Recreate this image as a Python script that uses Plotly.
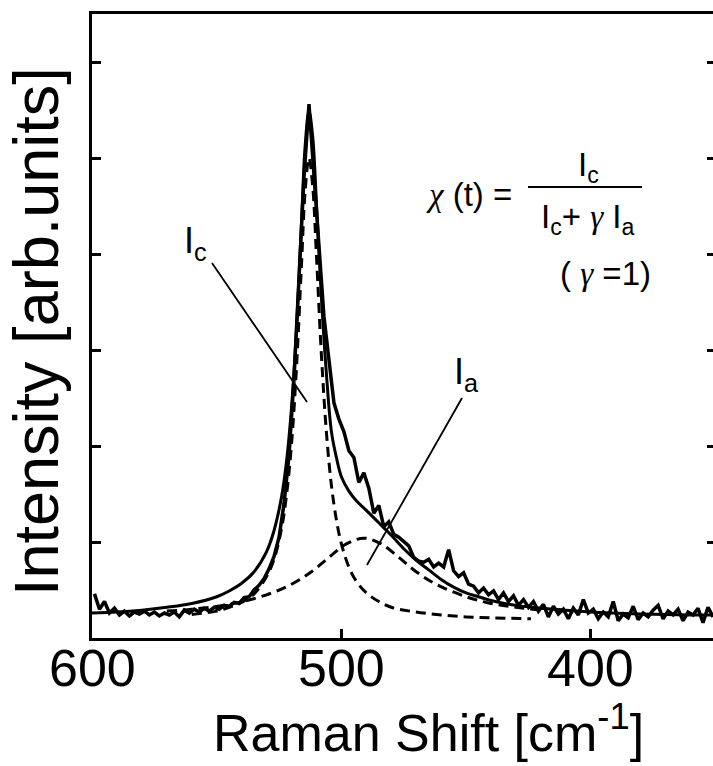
import plotly.graph_objects as go

# ---------------- data ----------------
raman_shift = [599, 597, 595, 593, 591, 589, 587, 585, 583, 581,
               579, 577, 575, 573, 571, 569, 567, 565, 563, 561,
               559, 557, 555, 553, 551, 549, 547, 545, 543, 541,
               539, 537, 535, 533, 531, 529, 527, 525, 523, 521,
               519, 517, 515, 513, 511, 509, 507, 505, 503, 501,
               499, 497, 495, 493, 491, 489, 487, 485, 483, 481,
               479, 477, 475, 473, 471, 469, 467, 465, 463, 461,
               459, 457, 455, 453, 451, 449, 447, 445, 443, 441,
               439, 437, 435, 433, 431, 429, 427, 425, 423, 421,
               419, 417, 415, 413, 411, 409, 407, 405, 403, 401,
               399, 397, 395, 393, 391, 389, 387, 385, 383, 381,
               379, 377, 375, 373, 371, 369, 367, 365, 363, 361,
               359, 357, 355, 353, 351]
intensity_measured = [0.46, 0.30, 0.38, 0.26, 0.31, 0.24, 0.28, 0.23, 0.27, 0.25,
                      0.28, 0.24, 0.27, 0.23, 0.26, 0.24, 0.27, 0.22, 0.29, 0.26,
                      0.30, 0.27, 0.31, 0.28, 0.32, 0.30, 0.34, 0.33, 0.37, 0.36,
                      0.42, 0.43, 0.50, 0.55, 0.62, 0.72, 0.85, 1.05, 1.40, 1.90,
                      2.70, 3.85, 4.80, 5.56, 4.85, 4.05, 3.35, 2.90, 2.45, 2.28,
                      2.15, 1.95, 1.88, 1.62, 1.72, 1.56, 1.30, 1.38, 1.16, 1.21,
                      1.08, 1.05, 1.01, 0.96, 0.84, 0.80, 0.79, 0.82, 0.74, 0.78,
                      0.74, 0.92, 0.70, 0.64, 0.68, 0.56, 0.54, 0.47, 0.52, 0.45,
                      0.49, 0.40, 0.47, 0.38, 0.44, 0.34, 0.40, 0.32, 0.38, 0.28,
                      0.35, 0.22, 0.33, 0.25, 0.30, 0.20, 0.31, 0.24, 0.40, 0.26,
                      0.30, 0.20, 0.27, 0.22, 0.38, 0.18, 0.25, 0.21, 0.33, 0.19,
                      0.26, 0.22, 0.29, 0.34, 0.20, 0.28, 0.24, 0.30, 0.18, 0.27,
                      0.24, 0.31, 0.16, 0.32, 0.22]

fit_shift = [600, 590, 580, 570, 560, 550, 545, 540, 535, 530, 527, 524, 522, 520,
             518, 516, 514.5, 513, 511.5, 510, 508, 506, 504, 502, 500, 497, 494,
             490, 485, 480, 475, 470, 465, 460, 455, 450, 445, 440, 430, 420, 410,
             400, 380, 360, 351]
fit_total = [0.26, 0.27, 0.29, 0.32, 0.36, 0.43, 0.49, 0.57, 0.69, 0.90, 1.12, 1.47, 1.84, 2.40,
             3.23, 4.33, 5.14, 5.49, 5.22, 4.53, 3.54, 2.75, 2.15, 1.88, 1.68, 1.53, 1.43,
             1.33, 1.20, 1.07, 0.93, 0.81, 0.71, 0.61, 0.53, 0.47, 0.43, 0.39, 0.34, 0.31, 0.29,
             0.27, 0.25, 0.24, 0.24]

ic_shift = [560, 550, 545, 540, 535, 530, 527, 524, 522, 520, 518, 516, 514.5, 513,
            511.5, 510, 508, 506, 504, 502, 500, 497, 494, 490, 485, 480, 470, 460,
            450, 440, 424]
ic_crystal = [0.245, 0.28, 0.32, 0.37, 0.46, 0.64, 0.82, 1.14, 1.49, 2.02, 2.82, 3.89, 4.67, 5.00,
              4.70, 3.98, 2.94, 2.14, 1.59, 1.23, 0.98, 0.74, 0.59, 0.47, 0.38, 0.32, 0.27, 0.24,
              0.22, 0.21, 0.20]

ia_shift = [570, 560, 545, 530, 520, 512, 505, 498, 491, 484, 477, 470, 462, 450,
            440, 430, 420]
ia_amorphous = [0.28, 0.30, 0.35, 0.45, 0.56, 0.69, 0.84, 0.98, 1.04, 0.98, 0.84, 0.69, 0.56, 0.43,
                0.36, 0.32, 0.29]

x_tick_values = [600, 500, 400]
x_tick_labels = ["600", "500", "400"]
y_tick_values = [1, 2, 3, 4, 5, 6]
y_range = [0, 6.5]

# ---------------- figure ----------------
W, H = 713, 766
L, R, T, B = 92, 0, 14, 128
pw, ph = W - L - R, H - T - B


def px(xp):
    return (xp - L) / pw


def py(yp):
    return (H - B - yp) / ph


dash_line = dict(color="black", width=3, dash="10px,6px")
fig = go.Figure()
fig.add_trace(go.Scatter(x=ia_shift, y=ia_amorphous, mode="lines", line_shape="spline",
                         line=dash_line, showlegend=False))
fig.add_trace(go.Scatter(x=ic_shift, y=ic_crystal, mode="lines", line_shape="spline",
                         line=dash_line, showlegend=False))
fig.add_trace(go.Scatter(x=fit_shift, y=fit_total, mode="lines", line_shape="spline",
                         line=dict(color="black", width=3), showlegend=False))
fig.add_trace(go.Scatter(x=raman_shift, y=intensity_measured, mode="lines",
                         line=dict(color="black", width=3.5), showlegend=False))
# empty trace so that the right-hand tick axis is drawn
fig.add_trace(go.Scatter(x=[], y=[], yaxis="y2", showlegend=False, hoverinfo="skip"))

font_main = "Liberation Sans, Arial, Helvetica, sans-serif"
serif_i = '<span style="font-family:Liberation Serif, Times New Roman, serif"><i>{}</i></span>'

fig.update_layout(
    xaxis=dict(range=[600, 351], tickvals=x_tick_values, showticklabels=False,
               ticks="inside", ticklen=9, tickwidth=3, tickcolor="black",
               showline=True, linewidth=3, linecolor="black", mirror=True,
               showgrid=False, zeroline=False),
    yaxis=dict(range=y_range, tickvals=y_tick_values, showticklabels=False,
               ticks="inside", ticklen=9, tickwidth=3, tickcolor="black",
               showline=True, linewidth=3, linecolor="black", mirror=False,
               showgrid=False, zeroline=False),
    yaxis2=dict(range=y_range, tickvals=y_tick_values, showticklabels=False,
                overlaying="y", side="right", anchor="free", position=1.0,
                ticks="inside", ticklen=6, tickwidth=3, tickcolor="black",
                showline=False, showgrid=False, zeroline=False),
)

ann = []
for v, t in zip(x_tick_values, x_tick_labels):
    ann.append(dict(text=t, x=v, xref="x", y=py(668), yref="paper", xanchor="center",
                    yanchor="middle", showarrow=False,
                    font=dict(family=font_main, size=52, color="black")))
ann.append(dict(text="Raman Shift [cm<sup>-1</sup>]", x=px(428), y=py(729), xref="paper", yref="paper",
                xanchor="center", yanchor="middle", showarrow=False,
                font=dict(family=font_main, size=52, color="black")))
ann.append(dict(text="Intensity [arb.units]", x=px(36), y=py(332), xref="paper", yref="paper",
                xanchor="center", yanchor="middle", showarrow=False, textangle=-90,
                font=dict(family=font_main, size=63, color="black")))

fsz = 33
ann.append(dict(text=serif_i.format("χ") + " (t) =", x=px(469), y=py(195), xref="paper", yref="paper",
                xanchor="center", yanchor="middle", showarrow=False,
                font=dict(family=font_main, size=fsz, color="black")))
ann.append(dict(text="I<sub>c</sub>", x=px(588), y=py(167), xref="paper", yref="paper",
                xanchor="center", yanchor="middle", showarrow=False,
                font=dict(family=font_main, size=fsz, color="black")))
ann.append(dict(text="I<sub>c</sub>+ " + serif_i.format("γ") + " I<sub>a</sub>", x=px(588), y=py(219),
                xref="paper", yref="paper", xanchor="center", yanchor="middle", showarrow=False,
                font=dict(family=font_main, size=fsz, color="black")))
ann.append(dict(text="( " + serif_i.format("γ") + " =1)", x=px(605), y=py(273), xref="paper", yref="paper",
                xanchor="center", yanchor="middle", showarrow=False,
                font=dict(family=font_main, size=fsz, color="black")))
ann.append(dict(text="I<sub>c</sub>", x=px(195), y=py(243), xref="paper", yref="paper",
                xanchor="center", yanchor="middle", showarrow=False,
                font=dict(family=font_main, size=36, color="black")))
ann.append(dict(text="I<sub>a</sub>", x=px(466), y=py(374), xref="paper", yref="paper",
                xanchor="center", yanchor="middle", showarrow=False,
                font=dict(family=font_main, size=36, color="black")))

shapes = [
    dict(type="line", xref="paper", yref="paper", x0=px(528), x1=px(642), y0=py(187), y1=py(187),
         line=dict(color="black", width=2)),
    dict(type="line", xref="paper", yref="paper", x0=px(212), y0=py(263), x1=px(307), y1=py(402),
         line=dict(color="black", width=1.8)),
    dict(type="line", xref="paper", yref="paper", x0=px(462), y0=py(398), x1=px(367), y1=py(565),
         line=dict(color="black", width=1.8)),
]

fig.update_layout(width=W, height=H, margin=dict(l=L, r=R, t=T, b=B),
                  paper_bgcolor="white", plot_bgcolor="white",
                  annotations=ann, shapes=shapes)

fig.write_html("out.html")
